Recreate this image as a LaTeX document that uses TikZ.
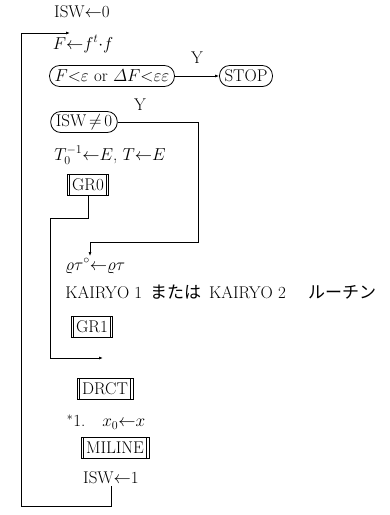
\documentclass[tikz,border=0pt]{standalone}
\usepackage{amsmath}
\usepackage{fontspec}
\newfontfamily\jpfont{Noto Sans CJK JP}
\usetikzlibrary{arrows.meta, positioning}

\begin{document}
\begin{tikzpicture}[x=1pt, y=-1pt,
    font=\fontsize{17}{20}\selectfont,
    line width=0.8pt,
    every node/.style={inner sep=2pt},
    test/.style={draw, rounded corners=10pt, minimum height=21pt, inner xsep=5pt},
    sub/.style={draw, minimum height=21pt, inner xsep=5pt,
        path picture={\draw ([xshift=2.5pt]path picture bounding box.north west) -- ([xshift=2.5pt]path picture bounding box.south west)
            ([xshift=-2.5pt]path picture bounding box.north east) -- ([xshift=-2.5pt]path picture bounding box.south east);}},
    flow/.style={-{Latex[length=4pt, width=3pt]}}
]
    \useasboundingbox (0,0) rectangle (389,515);

    % start
    \node (isw0) at (82,12) {ISW$\leftarrow$0};
    \node (fval) at (83,44) {$F{\leftarrow}f^{t}{\cdot}f$};
    \node[test] (conv) at (112,76) {$F{<}\varepsilon$ or $\varDelta F{<}\varepsilon\varepsilon$};
    \node[test] (stop) at (246,76) {STOP};
    \node (y1) at (197,58) {Y};
    \draw[flow] (conv) -- (stop);

    % ISW test
    \node[test] (iswtest) at (84,122) {ISW$\,{\neq}\,$0};
    \node (y2) at (140,105) {Y};
    \node (tinit) at (110,155) {$T_0^{-1}{\leftarrow}E$, $T{\leftarrow}E$};
    \node[sub] (gr0) at (88,185) {GR0};

    % KAIRYO
    \node[anchor=west] (sig) at (63,266) {$\varrho\tau^{\circ}{\leftarrow}\varrho\tau$};
    \node[anchor=west] (kairyo) at (63,292) {KAIRYO 1 \,{\jpfont または}\, KAIRYO 2 \quad{\jpfont ルーチン}};
    \node[sub] (gr1) at (92,327) {GR1};
    \coordinate (turn) at (90,242);
    \draw[flow] (iswtest.east) -| (198,242) -- (turn) -- (turn |- sig.north);

    % DRCT, MILINE
    \coordinate (merge) at (103,358);
    \draw[flow] (gr0.south) -- ++(0,22) -| (50,358) -- (merge);
    \node[sub] (drct) at (105,389) {DRCT};
    \node (xinit) at (106,422) {$^{*}$1.\quad $x_0{\leftarrow}x$};
    \node[sub] (miline) at (115,448) {MILINE};
    \node (isw1) at (111,478) {ISW$\leftarrow$1};

    % loop back
    \coordinate (loopin) at (70,33);
    \draw[flow] (isw1.south) |- (21,506) |- (loopin);
\end{tikzpicture}
\end{document}
